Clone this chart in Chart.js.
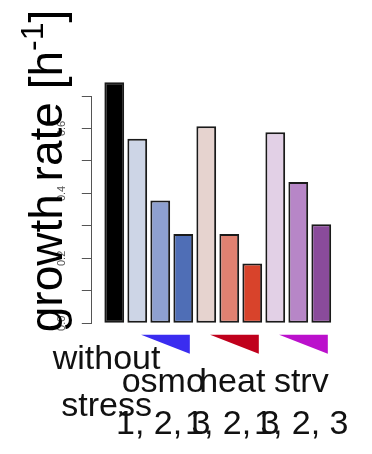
<!DOCTYPE html>
<html>
<head>
<meta charset="utf-8">
<script src="https://cdn.jsdelivr.net/npm/chart.js@4.4.1/dist/chart.umd.min.js"></script>
<style>
  html, body { margin: 0; padding: 0; background: #ffffff; }
  #wrap { width: 372px; height: 454px; position: relative; }
</style>
</head>
<body>
<div id="wrap"><canvas id="chart"></canvas></div>
<script>
// Growth rate of the unstressed control and of three stresses at increasing strength
const conditions = ["without stress", "osmo 1", "osmo 2", "osmo 3", "heat 1", "heat 2", "heat 3", "strv 1", "strv 2", "strv 3"];
const growthRates = [0.742, 0.568, 0.378, 0.275, 0.607, 0.275, 0.184, 0.588, 0.435, 0.305];
const barColors = ["#000000", "#cdd5e6", "#8ea0d0", "#4f6eb6", "#e6d3cf", "#e08171", "#d8432b", "#e2d0e6", "#b786c7", "#8a4b9b"];
const controlLabel = ["without", "stress"];
const stressGroups = ["osmo", "heat", "strv"];
const stressLevels = "1, 2, 3";
const wedgeColors = ["#3a2cf0", "#c0001c", "#bb10cc"];
const yTitle = { text: "growth rate [h", sup: "-1", close: "]" };

// barplot layout: unit-wide bars separated by 0.2 units
const BAR_W = 1, GAP = 0.2;
const barCenter = i => GAP + BAR_W / 2 + i * (BAR_W + GAP);
const span = conditions.length * (BAR_W + GAP);
const pad = 0.04 * (span - GAP);

const FONT = "'Liberation Sans', Arial, sans-serif";

const annotate = {
  id: "annotate",
  afterDraw(chart) {
    const { ctx } = chart;
    const x = chart.scales.x, y = chart.scales.y;
    const zero = y.getPixelForValue(0);
    ctx.save();

    // wedges under each stress group, growing to the right
    stressGroups.forEach((g, k) => {
      const first = 1 + 3 * k, last = 3 + 3 * k;
      const xl = x.getPixelForValue(barCenter(first) - BAR_W / 2 + 0.7);
      const xr = x.getPixelForValue(barCenter(last) + BAR_W / 2 - 0.16);
      ctx.fillStyle = wedgeColors[k];
      ctx.beginPath();
      ctx.moveTo(xl, zero + 11.5);
      ctx.lineTo(xr, zero + 11.5);
      ctx.lineTo(xr, zero + 30.5);
      ctx.closePath();
      ctx.fill();
    });

    // category labels
    ctx.fillStyle = "#111111";
    ctx.textAlign = "center";
    ctx.textBaseline = "alphabetic";
    ctx.font = "34px " + FONT;
    const cx = x.getPixelForValue(barCenter(0) - 0.4);
    ctx.fillText(controlLabel[0], cx, zero + 45.5);
    ctx.fillText(controlLabel[1], cx, zero + 92.5);
    stressGroups.forEach((g, k) => {
      const gx = x.getPixelForValue(barCenter(2 + 3 * k)) + 3;
      ctx.fillText(g, gx, zero + 68.5);
      ctx.fillText(stressLevels, gx, zero + 110.5);
    });

    // rotated axis title with superscript exponent
    const size = 46;
    const big = size + "px " + FONT, small = Math.round(size * 0.7) + "px " + FONT;
    ctx.font = big;
    const w1 = ctx.measureText(yTitle.text).width;
    const w3 = ctx.measureText(yTitle.close).width;
    ctx.font = small;
    const w2 = ctx.measureText(yTitle.sup).width;
    const total = w1 + w2 + w3;
    ctx.translate(62, 171);
    ctx.rotate(-Math.PI / 2);
    ctx.textAlign = "left";
    ctx.fillStyle = "#000000";
    let pos = -total / 2;
    ctx.font = big;
    ctx.fillText(yTitle.text, pos, 0);
    pos += w1;
    ctx.font = small;
    ctx.fillText(yTitle.sup, pos, -size * 0.42);
    pos += w2;
    ctx.font = big;
    ctx.fillText(yTitle.close, pos, 0);
    ctx.restore();
  }
};

new Chart(document.getElementById("chart"), {
  type: "bar",
  data: {
    datasets: [{
      data: growthRates.map((v, i) => ({ x: barCenter(i), y: v })),
      backgroundColor: barColors,
      borderColor: "#1a1a1a",
      borderWidth: 2,
      borderSkipped: false,
      barPercentage: 0.86,
      categoryPercentage: 1,
      clip: false
    }]
  },
  options: {
    responsive: true,
    maintainAspectRatio: false,
    animation: false,
    events: [],
    layout: { padding: { top: 96, bottom: 130.7, left: 0, right: 32.1 } },
    plugins: { legend: { display: false }, tooltip: { enabled: false }, title: { display: false } },
    scales: {
      x: {
        type: "linear",
        display: false,
        offset: false,
        grid: { offset: false },
        min: -pad,
        max: span + pad
      },
      y: {
        min: 0,
        max: 0.7,
        afterFit(scale) { scale.width = 91.8; },
        border: { display: true, color: "#555555", width: 1 },
        grid: { drawOnChartArea: false, drawTicks: true, tickLength: 10, color: "#555555", lineWidth: 1 },
        ticks: {
          stepSize: 0.1,
          minRotation: 90,
          maxRotation: 90,
          crossAlign: "center",
          padding: 12,
          color: "#555555",
          font: { family: FONT, size: 11 },
          callback: v => (Math.round(v * 10) % 2 === 0 ? v.toFixed(1) : "")
        }
      }
    }
  },
  plugins: [annotate]
});
</script>
</body>
</html>
